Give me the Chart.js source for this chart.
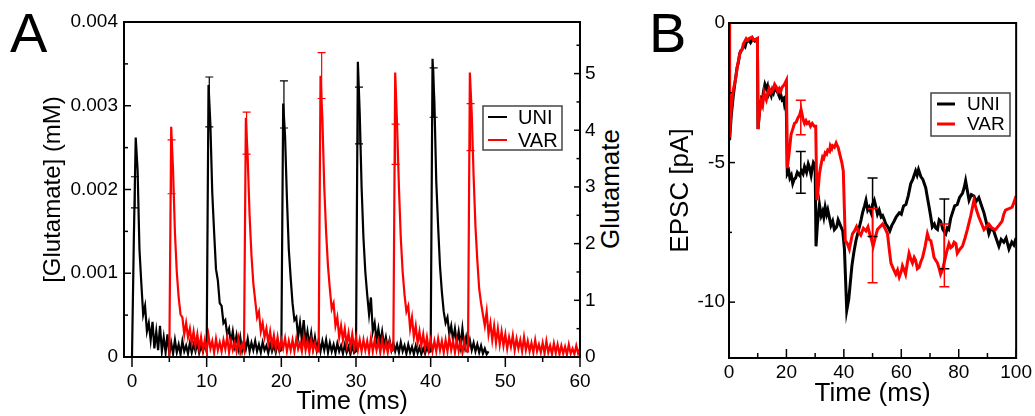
<!DOCTYPE html>
<html>
<head>
<meta charset="utf-8">
<script src="https://cdn.jsdelivr.net/npm/chart.js@4.4.1/dist/chart.umd.min.js"></script>
<style>
  body { margin: 0; width: 1035px; height: 416px; background: #fff; overflow: hidden; position: relative; font-family: 'Liberation Sans', Arial, sans-serif; }
  canvas { position: absolute; top: 0; }
  #chartA { left: 0; }
  #chartB { left: 620px; }
  .panel { position: absolute; font-size: 56px; line-height: 1; color: #000; }
  #rightTitle { position: absolute; left: 610px; top: 189px; font-size: 26px; line-height: 1; transform: translate(-50%, -50%) rotate(-90deg); white-space: nowrap; }
</style>
</head>
<body>
<div class="panel" style="left:10px;top:5px">A</div>
<div class="panel" style="left:649px;top:5px">B</div>
<div id="rightTitle">Glutamate</div>
<canvas id="chartA" width="620" height="416"></canvas>
<canvas id="chartB" width="415" height="416"></canvas>
<script>
// ---- panel A: glutamate in the cleft, sampled every 0.25 ms ----
const dtA = 0.25;
const uniStart = 0;
const uniGlu = [
  0, 2.1, 3.87, 3.3,   1.9, 1.3, 0.75, 0.9,   0.45, 0.6, 0.3, 0.62,   0.15, 0.45, 0.12, 0.55,
  0.1, 0.35, 0.08, 0.4,   0.05, 0.25, 0.06, 0.3,   0.08, 0.22, 0.05, 0.28,   0.1, 0.2, 0.06, 0.25,
  0.08, 0.22, 0.1, 0.26,   0.07, 0.2, 0.09, 0.24,
  0.1, 4.8, 4.1, 2.9,   2.2, 1.55, 1.35, 0.95,   0.9, 0.6, 0.65, 0.4,   0.5, 0.25, 0.45, 0.2,
  0.38, 0.15, 0.35, 0.12,   0.3, 0.14, 0.32, 0.1,   0.25, 0.12, 0.28, 0.1,   0.22, 0.08, 0.26, 0.12,
  0.2, 0.07, 0.23, 0.1,   0.21, 0.08, 0.24, 0.1,
  0.12, 4.47, 3.9, 2.8,   1.9, 1.4, 0.95, 0.65,   0.7, 0.35, 0.6, 0.3,   0.65, 0.25, 0.45, 0.2,
  0.42, 0.15, 0.35, 0.12,   0.3, 0.1, 0.28, 0.12,   0.3, 0.08, 0.25, 0.1,   0.22, 0.07, 0.24, 0.1,
  0.2, 0.06, 0.22, 0.08,   0.18, 0.05, 0.2, 0.07,
  0.1, 5.21, 4.3, 3.0,   2.1, 1.5, 1.1, 0.75,   1.05, 0.45, 0.6, 0.3,   0.5, 0.25, 0.45, 0.2,
  0.35, 0.15, 0.3, 0.12,   0.25, 0.1, 0.22, 0.08,   0.26, 0.1, 0.2, 0.06,   0.22, 0.08, 0.18, 0.05,
  0.2, 0.07, 0.17, 0.05,   0.15, 0.06, 0.18, 0.08,
  0.1, 5.26, 4.5, 3.1,   2.3, 1.6, 1.15, 0.8,   0.6, 0.7, 0.4, 0.55,   0.3, 0.5, 0.25, 0.45,
  0.2, 0.5, 0.18, 0.35,   0.15, 0.3, 0.12, 0.25,   0.1, 0.22, 0.08, 0.2,   0.06, 0.15, 0.05, 0.1
];
const varStart = 5;
const varGlu = [
  0, 4.06, 3.3, 2.2,   1.5, 1.05, 0.75, 0.7,   0.4, 0.6, 0.35, 0.5,   0.25, 0.45, 0.2, 0.4,
  0.15, 0.35, 0.12, 0.3,   0.1, 0.38, 0.15, 0.28,   0.08, 0.32, 0.12, 0.26,   0.1, 0.3, 0.14, 0.35,
  0.08, 0.28, 0.12, 0.25,   0.1, 0.32, 0.08, 0.22,
  0.12, 4.22, 3.5, 2.5,   1.8, 1.3, 1.0, 0.7,   0.8, 0.45, 0.6, 0.35,   0.5, 0.25, 0.45, 0.2,
  0.38, 0.15, 0.35, 0.12,   0.3, 0.15, 0.33, 0.1,   0.28, 0.12, 0.3, 0.1,   0.32, 0.14, 0.25, 0.1,
  0.36, 0.12, 0.28, 0.08,   0.3, 0.12, 0.25, 0.1,
  0.1, 4.96, 4.2, 3.0,   2.2, 1.6, 1.2, 0.85,   0.95, 0.55, 0.7, 0.35,   0.55, 0.3, 0.5, 0.22,
  0.42, 0.18, 0.4, 0.15,   0.35, 0.12, 0.3, 0.1,   0.3, 0.12, 0.28, 0.08,   0.33, 0.1, 0.3, 0.12,
  0.28, 0.08, 0.3, 0.1,   0.25, 0.08, 0.27, 0.1,
  0.12, 5.02, 4.1, 3.0,   2.1, 1.5, 1.1, 0.8,   0.9, 0.5, 0.7, 0.35,   0.55, 0.25, 0.45, 0.2,
  0.4, 0.15, 0.35, 0.12,   0.3, 0.1, 0.28, 0.1,   0.32, 0.12, 0.28, 0.08,   0.3, 0.1, 0.34, 0.12,
  0.28, 0.08, 0.3, 0.1,   0.26, 0.08, 0.28, 0.1,
  0.1, 5.02, 4.3, 3.2,   2.3, 1.7, 1.2, 0.95,   0.75, 0.55, 0.8, 0.4,   0.6, 0.3, 0.55, 0.25,
  0.5, 0.22, 0.45, 0.2,   0.4, 0.15, 0.35, 0.18,   0.38, 0.12, 0.32, 0.15,   0.3, 0.1, 0.35, 0.12,
  0.28, 0.1, 0.25, 0.08,   0.3, 0.1, 0.22, 0.08,   0.25, 0.06, 0.28, 0.08,   0.2, 0.05, 0.24, 0.07,
  0.22, 0.05, 0.2, 0.06,   0.18, 0.04, 0.22, 0.06,   0.15, 0.05, 0.2, 0.06,   0.15
];
const uniErrT  = [0.4, 10.35, 20.35, 30.4, 40.4];
const uniErrLo = [2.63, 4.06, 4.04, 3.76, 4.23];
const uniErrHi = [3.18, 4.94, 4.87, 4.76, 5.10];
const varErrT  = [5.3, 15.35, 25.4, 35.3, 45.35];
const varErrLo = [2.88, 3.58, 4.56, 3.40, 3.64];
const varErrHi = [3.83, 4.32, 5.37, 4.11, 4.47];
const timeTicksA = [0, 10, 20, 30, 40, 50, 60];
const concTicks = [0, 0.001, 0.002, 0.003, 0.004];
const countTicks = [0, 1, 2, 3, 4, 5];

// ---- panel B: EPSC ----
const epscUniT = [0, 0.2, 0.8, 1.5, 2, 2.8, 3.3, 3.7, 4.5, 5.2, 5.6, 6, 7, 7.5, 8.3, 9, 9.9,
  10.1, 10.6, 11.3, 11.7, 12, 12.5, 13, 13.4, 13.8, 14.2, 14.7, 15.1, 15.5, 16, 16.4, 17, 17.6, 18, 18.5, 19, 19.3, 19.9,
  20.3, 20.8, 21.2, 21.7, 22.2, 22.7, 23.2, 23.8, 24.5, 25.3, 25.8, 26.3, 27, 27.6, 28.1, 28.6, 29, 29.4, 30,
  30.3, 30.8, 31.5, 32.1, 32.6, 33, 33.5, 34, 34.4, 35, 35.5, 36.1, 36.7, 37.5, 38, 38.4, 39, 39.6,
  40.2, 41, 41.7, 42.8, 43.5, 44.2, 45.4, 46, 46.5, 47.2, 47.7, 48.3, 48.8, 49.5, 50, 50.6, 51.2, 51.7,
  52.3, 53, 53.5, 54.1, 54.6, 55.3, 56, 56.7, 57.5, 58.2, 59.3, 60, 60.8, 61.6, 62.4, 63.3, 64, 65,
  65.5, 66, 66.8, 67.5, 68.5, 69, 69.7, 70.2, 70.8, 71.5, 72, 72.6, 73.2, 73.7, 74.5, 75.5, 76, 76.5,
  77.2, 77.8, 78.6, 79.5, 80.3, 81.3, 81.9, 82.4, 83, 83.6, 84.4, 85.3, 86, 87, 87.8, 88.8, 89.5,
  90.5, 91.2, 92.2, 93, 94, 94.8, 95.7, 96.5, 97.5, 98.5, 99.2, 100];
const epscUni = [0, -4.2, -3.3, -2.6, -2.2, -1.6, -1.4, -1.1, -0.95, -0.8, -0.85, -0.7, -0.62, -0.7, -0.56, -0.65, -0.6,
  -3.8, -3.2, -2.7, -2.75, -2.45, -2.2, -2.35, -2.25, -2.55, -2.45, -2.6, -2.4, -2.5, -2.3, -2.4, -2.5, -2.65, -2.55, -2.75, -2.7, -2.9, -2.65,
  -5.4, -5.3, -5.55, -5.45, -5.75, -5.6, -5.55, -5.35, -5.45, -5.3, -5.4, -5.15, -5.35, -5.05, -5.2, -5.45, -5.2, -5.0, -5.1,
  -8.0, -7.2, -6.5, -6.9, -6.75, -6.95, -6.6, -6.85, -6.7, -7.0, -7.25, -7.1, -7.4, -7.3, -7.05, -7.15, -7.3, -7.45,
  -8.1, -10.3, -9.9, -8.7, -8.2, -7.8, -7.3, -7.05, -6.8, -6.55, -6.35, -6.7, -6.6, -6.8, -6.5, -6.35, -6.6, -6.85,
  -6.7, -6.95, -6.9, -7.05, -7.2, -7.3, -7.45, -7.25, -7.1, -6.95, -6.8, -6.85, -6.55, -6.5, -6.2, -5.75, -5.6, -5.3,
  -5.45, -5.25, -5.5, -5.6, -5.9, -6.2, -6.6, -6.9, -7.3, -7.2, -7.35, -7.4, -7.05, -7.1, -7.4, -7.55, -7.35, -7.4,
  -7.0, -6.8, -6.55, -6.5, -6.25, -6.1, -5.9, -5.65, -6.0, -6.35, -6.15, -6.2, -6.4, -6.25, -6.5, -6.8, -7.1,
  -7.55, -7.35, -7.45, -7.7, -8.0, -7.75, -7.85, -7.7, -8.1, -7.85, -7.95, -7.7];
const epscVarT = [0, 0.2, 0.8, 1.5, 2.3, 3, 4, 4.6, 5, 6, 6.5, 7, 8, 8.5, 9, 9.9,
  10.1, 10.6, 11.2, 11.7, 12.2, 12.6, 13, 13.5, 14, 14.6, 15.3, 15.9, 16.5, 17, 17.5, 18, 18.5, 19.3, 20,
  20.3, 21, 21.6, 22.2, 22.8, 23.4, 24, 24.6, 25.1, 25.5, 25.8, 26.3, 26.8, 27.2, 27.8, 28.4, 29, 29.7, 30.2,
  30.6, 31, 31.5, 32, 32.6, 33, 33.5, 34, 34.4, 35, 35.3, 35.8, 36.1, 36.7, 37.3, 37.7, 38, 38.7, 39.3, 39.8,
  40.5, 41.2, 41.9, 42.5, 43, 43.7, 44.4, 45.2, 45.9, 46.8, 47.7, 48.4, 49, 49.6, 50.2, 50.9, 51.7, 52.6,
  53.5, 54.3, 55.2, 55.8, 56.4, 57.2, 58.1, 58.7, 59.3, 60, 60.4, 61, 61.5, 62.1, 62.7, 63.3, 63.9, 64.5,
  65, 65.6, 66.2, 66.8, 67.4, 68.3, 69.1, 69.7, 70.3, 70.9, 71.4, 72, 72.6, 73.2, 73.7, 74.3, 74.9, 75.8,
  76.6, 77.2, 77.8, 78.4, 79, 79.5, 80.4, 81.3, 82.2, 83, 84.2, 85.3, 86.2, 87, 88, 88.8, 89.6,
  90.5, 91.6, 92.8, 94, 95.1, 95.7, 96.3, 97.5, 98.6, 99.3, 100];
const epscVar = [0, -4.1, -3.0, -2.4, -2.0, -1.5, -1.0, -0.95, -0.75, -0.56, -0.62, -0.55, -0.5, -0.62, -0.6, -0.55,
  -3.8, -3.2, -2.8, -2.95, -2.5, -2.65, -2.75, -2.5, -2.35, -2.5, -2.4, -2.2, -2.3, -2.45, -2.35, -2.45, -2.3, -2.2, -2.05,
  -5.2, -4.6, -4.0, -3.8, -3.6, -3.55, -3.4, -3.3, -3.1, -3.3, -3.45, -3.6, -3.5, -3.6, -3.55, -3.7, -3.6, -3.7, -3.7,
  -6.35, -6.0, -5.4, -5.1, -4.8, -4.85, -4.65, -4.7, -4.55, -4.6, -4.4, -4.5, -4.4, -4.45, -4.3, -4.4, -4.45, -4.75, -5.0, -5.3,
  -7.8, -7.9, -8.1, -7.8, -7.55, -7.45, -7.3, -7.5, -7.6, -7.35, -7.45, -7.3, -7.55, -7.75, -8.0, -7.7, -7.4, -7.3,
  -7.2, -7.35, -7.55, -8.1, -8.6, -8.8, -9.0, -8.85, -9.1, -8.9, -8.7, -8.85, -9.0, -8.6, -8.25, -8.45, -8.6, -8.4,
  -8.5, -8.8, -8.75, -8.55, -8.4, -8.0, -7.55, -7.75, -7.8, -8.1, -8.4, -8.5, -8.6, -8.8, -9.0, -8.85, -8.6, -8.2,
  -7.9, -8.05, -8.0, -7.85, -7.9, -8.25, -8.1, -8.0, -7.7, -7.4, -6.9, -6.35, -6.7, -6.95, -7.2, -7.4, -7.3,
  -7.2, -7.35, -7.4, -7.25, -7.1, -6.85, -6.7, -6.65, -6.6, -6.4, -6.2];
const epscErrT = [25, 50, 75];
const epscUniErrLo = [-6.1, -7.65, -8.8];
const epscUniErrHi = [-4.6, -5.55, -6.3];
const epscVarErrLo = [-4.0, -9.3, -9.45];
const epscVarErrHi = [-2.77, -6.65, -7.2];
const timeTicksB = [0, 20, 40, 60, 80, 100];
const epscTicks = [-10, -5, 0];

const FONT = "'Liberation Sans', Arial, sans-serif";
const BLACK = '#000000';
const RED = '#ff0000';

// frame round the plot area
const frame = {
  id: 'frame',
  afterDatasetsDraw(chart, args, o) {
    const { ctx, chartArea: a } = chart;
    ctx.save();
    ctx.strokeStyle = '#000';
    ctx.lineWidth = o.width;
    ctx.strokeRect(a.left, a.top, a.right - a.left, a.bottom - a.top);
    ctx.restore();
  }
};

// major ticks plus minor ticks half way between them
const tickMarks = {
  id: 'tickMarks',
  afterDatasetsDraw(chart, args, o) {
    const { ctx, chartArea: a } = chart;
    ctx.save();
    ctx.strokeStyle = '#000';
    ctx.lineWidth = o.width;
    for (const ax of o.axes) {
      const s = chart.scales[ax.id];
      const majors = s.ticks.map(t => t.value);
      const half = (majors[1] - majors[0]) / 2;
      const minors = [];
      majors.forEach(v => [v - half, v + half].forEach(m => {
        const eps = half * 1e-6;
        if (m < s.min - eps || m > s.max + eps) return;
        if (majors.some(M => Math.abs(M - m) < eps) || minors.some(M => Math.abs(M - m) < eps)) return;
        minors.push(m);
      }));
      const draw = (v, len) => {
        const p = s.getPixelForValue(v);
        ctx.beginPath();
        if (s.isHorizontal()) {
          const dir = ax.dir === 'out' ? 1 : -1;
          ctx.moveTo(p, a.bottom);
          ctx.lineTo(p, a.bottom + dir * len);
        } else {
          const x0 = s.position === 'left' ? a.left : a.right;
          const dir = (s.position === 'left') === (ax.dir === 'in') ? 1 : -1;
          ctx.moveTo(x0, p);
          ctx.lineTo(x0 + dir * len, p);
        }
        ctx.stroke();
      };
      majors.forEach(v => draw(v, ax.major));
      minors.forEach(v => draw(v, ax.minor));
    }
    ctx.restore();
  }
};

const errorBars = {
  id: 'errorBars',
  afterDatasetsDraw(chart, args, o) {
    const { ctx } = chart;
    const xs = chart.scales.x, ys = chart.scales[o.yAxis];
    ctx.save();
    ctx.lineWidth = o.width;
    for (const set of o.sets) {
      ctx.strokeStyle = set.color;
      set.t.forEach((t, i) => {
        const x = xs.getPixelForValue(t);
        const y1 = ys.getPixelForValue(set.lo[i]);
        const y2 = ys.getPixelForValue(set.hi[i]);
        ctx.beginPath();
        ctx.moveTo(x, y1); ctx.lineTo(x, y2);
        ctx.moveTo(x - o.cap, y1); ctx.lineTo(x + o.cap, y1);
        ctx.moveTo(x - o.cap, y2); ctx.lineTo(x + o.cap, y2);
        ctx.stroke();
      });
    }
    ctx.restore();
  }
};

const boxLegend = {
  id: 'boxLegend',
  afterDraw(chart, args, o) {
    const { ctx } = chart;
    ctx.save();
    ctx.fillStyle = '#fff';
    ctx.fillRect(o.x, o.y, o.w, o.h);
    ctx.strokeStyle = '#444';
    ctx.lineWidth = 1.5;
    ctx.strokeRect(o.x, o.y, o.w, o.h);
    ctx.font = o.font;
    ctx.textBaseline = 'middle';
    chart.data.datasets.forEach((ds, i) => {
      const y = o.y + o.first + i * o.step;
      ctx.strokeStyle = ds.borderColor;
      ctx.lineWidth = o.lineWidth;
      ctx.beginPath();
      ctx.moveTo(o.x + o.lineFrom, y);
      ctx.lineTo(o.x + o.lineTo, y);
      ctx.stroke();
      ctx.fillStyle = '#000';
      ctx.fillText(ds.label, o.x + o.textX, y + 1);
    });
    ctx.restore();
  }
};

const fixedTicks = values => scale => { scale.ticks = values.map(v => ({ value: v })); };
const tickFont = { family: FONT, size: 19 };

function series(start, values) {
  return values.map((v, i) => ({ x: start + i * dtA, y: v }));
}
function pairs(ts, values) {
  return values.map((v, i) => ({ x: ts[i], y: v }));
}

new Chart(document.getElementById('chartA'), {
  type: 'line',
  data: {
    datasets: [
      { label: 'UNI', data: series(uniStart, uniGlu), borderColor: BLACK, borderWidth: 2.2, pointRadius: 0, yAxisID: 'yR', order: 2 },
      { label: 'VAR', data: series(varStart, varGlu), borderColor: RED, borderWidth: 2.2, pointRadius: 0, yAxisID: 'yR', order: 1 }
    ]
  },
  options: {
    responsive: false,
    animation: false,
    devicePixelRatio: 1,
    layout: { padding: { top: 22, left: 0, right: 0, bottom: 0 } },
    plugins: {
      legend: { display: false },
      tooltip: { enabled: false },
      frame: { width: 2 },
      tickMarks: {
        width: 1.5,
        axes: [
          { id: 'x', dir: 'out', major: 10, minor: 5 },
          { id: 'y', dir: 'in', major: 7, minor: 4 },
          { id: 'yR', dir: 'in', major: 6, minor: 3.5 }
        ]
      },
      errorBars: {
        yAxis: 'yR', width: 1.2, cap: 4,
        sets: [
          { t: uniErrT, lo: uniErrLo, hi: uniErrHi, color: BLACK },
          { t: varErrT, lo: varErrLo, hi: varErrHi, color: RED }
        ]
      },
      boxLegend: {
        x: 483, y: 106, w: 79, h: 44, first: 11, step: 23,
        lineFrom: 5, lineTo: 24, textX: 35, lineWidth: 2,
        font: `20px ${FONT}`
      }
    },
    scales: {
      x: {
        type: 'linear', min: -1.07, max: 60,
        afterBuildTicks: fixedTicks(timeTicksA),
        afterFit: s => { s.height = 59; },
        grid: { display: false, drawTicks: false },
        border: { display: false },
        ticks: { font: tickFont, color: '#000', padding: 13, maxRotation: 0 },
        title: { display: true, text: 'Time (ms)', color: '#000', font: { family: FONT, size: 25, lineHeight: 1 }, padding: { top: 0, bottom: 1.5 } }
      },
      y: {
        type: 'linear', position: 'left', min: 0, max: 0.004,
        afterBuildTicks: fixedTicks(concTicks),
        afterFit: s => { s.width = 124; },
        grid: { display: false, drawTicks: false },
        border: { display: false },
        ticks: { font: tickFont, color: '#000', padding: 6, callback: v => v === 0 ? '0' : v.toFixed(3) },
        title: { display: true, text: '[Glutamate] (mM)', color: '#000', font: { family: FONT, size: 24, lineHeight: 1 }, padding: { top: 41, bottom: 0 } }
      },
      yR: {
        type: 'linear', position: 'right', min: 0, max: 5.91,
        afterBuildTicks: fixedTicks(countTicks),
        afterFit: s => { s.width = 40; },
        grid: { display: false, drawTicks: false },
        border: { display: false },
        ticks: { font: tickFont, color: '#000', padding: 5, callback: v => String(v) }
      }
    }
  },
  plugins: [frame, tickMarks, errorBars, boxLegend]
});

new Chart(document.getElementById('chartB'), {
  type: 'line',
  data: {
    datasets: [
      { label: 'UNI', data: pairs(epscUniT, epscUni), borderColor: BLACK, borderWidth: 3, pointRadius: 0, order: 2 },
      { label: 'VAR', data: pairs(epscVarT, epscVar), borderColor: RED, borderWidth: 3, pointRadius: 0, order: 1 }
    ]
  },
  options: {
    responsive: false,
    animation: false,
    devicePixelRatio: 1,
    layout: { padding: { top: 23, left: 0, right: 18, bottom: 0 } },
    plugins: {
      legend: { display: false },
      tooltip: { enabled: false },
      frame: { width: 2 },
      tickMarks: {
        width: 1.5,
        axes: [
          { id: 'x', dir: 'in', major: 9, minor: 5 },
          { id: 'y', dir: 'in', major: 6, minor: 3 }
        ]
      },
      errorBars: {
        yAxis: 'y', width: 1.5, cap: 5,
        sets: [
          { t: epscErrT, lo: epscUniErrLo, hi: epscUniErrHi, color: BLACK },
          { t: epscErrT, lo: epscVarErrLo, hi: epscVarErrHi, color: RED }
        ]
      },
      boxLegend: {
        x: 311, y: 93, w: 79, h: 43, first: 11, step: 20,
        lineFrom: 6, lineTo: 24, textX: 36, lineWidth: 3,
        font: `19px ${FONT}`
      }
    },
    scales: {
      x: {
        type: 'linear', min: 0, max: 100,
        afterBuildTicks: fixedTicks(timeTicksB),
        afterFit: s => { s.height = 58; },
        grid: { display: false, drawTicks: false },
        border: { display: false },
        ticks: { font: tickFont, color: '#000', padding: 3, maxRotation: 0 },
        title: { display: true, text: 'Time (ms)', color: '#000', font: { family: FONT, size: 26, lineHeight: 1 }, padding: { top: 0, bottom: 9 } }
      },
      y: {
        type: 'linear', position: 'left', min: -12, max: 0,
        afterBuildTicks: fixedTicks(epscTicks),
        afterFit: s => { s.width = 109; },
        grid: { display: false, drawTicks: false },
        border: { display: false },
        ticks: { font: tickFont, color: '#000', padding: 4, callback: v => String(v) },
        title: { display: true, text: 'EPSC [pA]', color: '#000', font: { family: FONT, size: 26, lineHeight: 1 }, padding: { top: 48, bottom: 0 } }
      }
    }
  },
  plugins: [frame, tickMarks, errorBars, boxLegend]
});
</script>
</body>
</html>
